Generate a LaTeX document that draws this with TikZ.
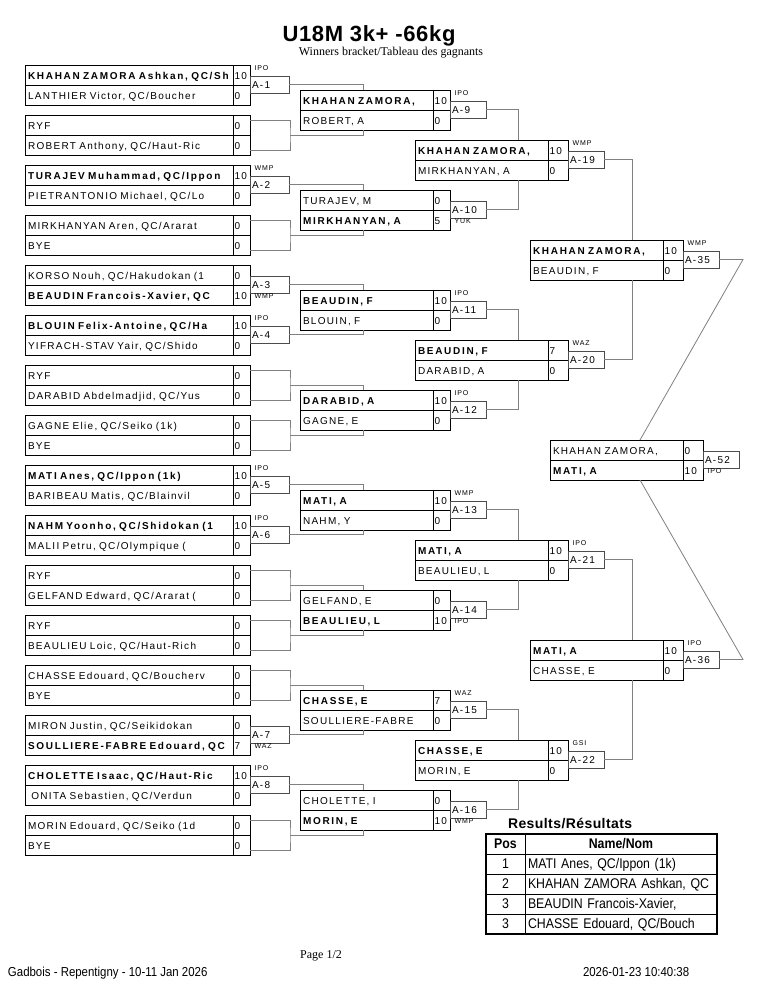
\documentclass[tikz,border=0pt]{standalone}
\usepackage{fontspec}
\setmainfont{Liberation Sans}[LetterSpace=13, BoldFeatures={LetterSpace=17}]
\newfontfamily\titlefont{Liberation Sans}[LetterSpace=3]
\newfontfamily\seriffont{Liberation Serif}
\newfontfamily\narrowfont{Liberation Sans}[FakeStretch=0.88]
\usetikzlibrary{positioning, calc}
\definecolor{linegray}{RGB}{128,128,128}

\begin{document}
\begin{tikzpicture}[x=1pt, y=-1pt, every node/.style={inner sep=0pt, outer sep=0pt, font=\fontsize{10}{12}\selectfont}]
    \tikzstyle{r1name} = [draw, line width=0.8pt, minimum height=20pt, text width=202pt, inner xsep=3pt, align=left, text height=9pt, text depth=1pt, anchor=north west]
    \tikzstyle{rname} = [r1name, text width=127pt]
    \tikzstyle{score} = [draw, line width=0.8pt, minimum height=20pt, text width=14pt, inner xsep=1.5pt, align=left, text height=9pt, text depth=1pt]
    \tikzstyle{wscore} = [score, text width=17pt]
    \tikzstyle{matchbox} = [draw=black!70, line width=0.8pt, minimum height=17pt, text width=32pt, inner xsep=2pt, align=left, text height=9pt, text depth=1pt, anchor=north west]
    \tikzstyle{r1match} = [matchbox, text width=35pt]
    \tikzstyle{winup} = [anchor=south west, inner sep=0.5pt, font=\fontsize{7}{8}\selectfont]
    \tikzstyle{windown} = [winup, anchor=north west]
    \tikzstyle{conn} = [draw=linegray, line width=0.8pt]
    \tikzstyle{poscell} = [draw, line width=0.8pt, minimum width=39pt, minimum height=20pt, font=\narrowfont\fontsize{14}{16}\selectfont, text height=10pt, text depth=2pt]
    \tikzstyle{namecell} = [poscell, minimum width=0pt, text width=186pt, inner xsep=3pt, align=left]

    \fill [white] (0,0) rectangle (765,990);
    \useasboundingbox (0,0) rectangle (765,990);

    % Heading
    \node (title) [anchor=base] at (369,42) {\titlefont\bfseries\fontsize{22}{26}\selectfont U18M 3k+ -66kg};
    \node (subtitle) [anchor=base] at (391,56) {\seriffont\fontsize{12}{14}\selectfont Winners bracket/Tableau des gagnants};

    % Round 1
    \node (a1t) [r1name] at (25,65) {\bfseries KHAHAN ZAMORA Ashkan, QC/Sh};
    \node (a1ts) [score, right=0pt of a1t] {10};
    \node (a1b) [r1name, below=0pt of a1t] {LANTHIER Victor, QC/Boucher};
    \node (a1bs) [score, right=0pt of a1b] {0};
    \node (a1m) [r1match] at ([yshift=-1pt]a1ts.east) {A-1};
    \node (a1w) [winup] at ([xshift=4pt, yshift=5pt]a1m.north west) {IPO};

    \node (a2t) [r1name] at (25,115) {RYF};
    \node (a2ts) [score, right=0pt of a2t] {0};
    \node (a2b) [r1name, below=0pt of a2t] {ROBERT Anthony, QC/Haut-Ric};
    \node (a2bs) [score, right=0pt of a2b] {0};
    \coordinate (a2o) at ([xshift=40pt]a2ts.south east);
    \draw [conn] ([yshift=-5pt]a2ts.north east) -| (a2o) |- ([yshift=-15pt]a2bs.north east);

    \node (a3t) [r1name] at (25,165) {\bfseries TURAJEV Muhammad, QC/Ippon};
    \node (a3ts) [score, right=0pt of a3t] {10};
    \node (a3b) [r1name, below=0pt of a3t] {PIETRANTONIO Michael, QC/Lo};
    \node (a3bs) [score, right=0pt of a3b] {0};
    \node (a3m) [r1match] at ([yshift=-1pt]a3ts.east) {A-2};
    \node (a3w) [winup] at ([xshift=4pt, yshift=5pt]a3m.north west) {WMP};

    \node (a4t) [r1name] at (25,215) {MIRKHANYAN Aren, QC/Ararat};
    \node (a4ts) [score, right=0pt of a4t] {0};
    \node (a4b) [r1name, below=0pt of a4t] {BYE};
    \node (a4bs) [score, right=0pt of a4b] {0};
    \coordinate (a4o) at ([xshift=40pt]a4ts.south east);
    \draw [conn] ([yshift=-5pt]a4ts.north east) -| (a4o) |- ([yshift=-15pt]a4bs.north east);

    \node (a5t) [r1name] at (25,265) {KORSO Nouh, QC/Hakudokan (1};
    \node (a5ts) [score, right=0pt of a5t] {0};
    \node (a5b) [r1name, below=0pt of a5t] {\bfseries BEAUDIN Francois-Xavier, QC};
    \node (a5bs) [score, right=0pt of a5b] {10};
    \node (a5m) [r1match] at ([yshift=-1pt]a5ts.east) {A-3};
    \node (a5w) [windown] at ([xshift=4pt]a5m.south west) {WMP};

    \node (a6t) [r1name] at (25,315) {\bfseries BLOUIN Felix-Antoine, QC/Ha};
    \node (a6ts) [score, right=0pt of a6t] {10};
    \node (a6b) [r1name, below=0pt of a6t] {YIFRACH-STAV Yair, QC/Shido};
    \node (a6bs) [score, right=0pt of a6b] {0};
    \node (a6m) [r1match] at ([yshift=-1pt]a6ts.east) {A-4};
    \node (a6w) [winup] at ([xshift=4pt, yshift=5pt]a6m.north west) {IPO};

    \node (a7t) [r1name] at (25,365) {RYF};
    \node (a7ts) [score, right=0pt of a7t] {0};
    \node (a7b) [r1name, below=0pt of a7t] {DARABID Abdelmadjid, QC/Yus};
    \node (a7bs) [score, right=0pt of a7b] {0};
    \coordinate (a7o) at ([xshift=40pt]a7ts.south east);
    \draw [conn] ([yshift=-5pt]a7ts.north east) -| (a7o) |- ([yshift=-15pt]a7bs.north east);

    \node (a8t) [r1name] at (25,415) {GAGNE Elie, QC/Seiko (1k)};
    \node (a8ts) [score, right=0pt of a8t] {0};
    \node (a8b) [r1name, below=0pt of a8t] {BYE};
    \node (a8bs) [score, right=0pt of a8b] {0};
    \coordinate (a8o) at ([xshift=40pt]a8ts.south east);
    \draw [conn] ([yshift=-5pt]a8ts.north east) -| (a8o) |- ([yshift=-15pt]a8bs.north east);

    \node (a9t) [r1name] at (25,465) {\bfseries MATI Anes, QC/Ippon (1k)};
    \node (a9ts) [score, right=0pt of a9t] {10};
    \node (a9b) [r1name, below=0pt of a9t] {BARIBEAU Matis, QC/Blainvil};
    \node (a9bs) [score, right=0pt of a9b] {0};
    \node (a9m) [r1match] at ([yshift=-1pt]a9ts.east) {A-5};
    \node (a9w) [winup] at ([xshift=4pt, yshift=5pt]a9m.north west) {IPO};

    \node (a10t) [r1name] at (25,515) {\bfseries NAHM Yoonho, QC/Shidokan (1};
    \node (a10ts) [score, right=0pt of a10t] {10};
    \node (a10b) [r1name, below=0pt of a10t] {MALII Petru, QC/Olympique (};
    \node (a10bs) [score, right=0pt of a10b] {0};
    \node (a10m) [r1match] at ([yshift=-1pt]a10ts.east) {A-6};
    \node (a10w) [winup] at ([xshift=4pt, yshift=5pt]a10m.north west) {IPO};

    \node (a11t) [r1name] at (25,565) {RYF};
    \node (a11ts) [score, right=0pt of a11t] {0};
    \node (a11b) [r1name, below=0pt of a11t] {GELFAND Edward, QC/Ararat (};
    \node (a11bs) [score, right=0pt of a11b] {0};
    \coordinate (a11o) at ([xshift=40pt]a11ts.south east);
    \draw [conn] ([yshift=-5pt]a11ts.north east) -| (a11o) |- ([yshift=-15pt]a11bs.north east);

    \node (a12t) [r1name] at (25,615) {RYF};
    \node (a12ts) [score, right=0pt of a12t] {0};
    \node (a12b) [r1name, below=0pt of a12t] {BEAULIEU Loic, QC/Haut-Rich};
    \node (a12bs) [score, right=0pt of a12b] {0};
    \coordinate (a12o) at ([xshift=40pt]a12ts.south east);
    \draw [conn] ([yshift=-5pt]a12ts.north east) -| (a12o) |- ([yshift=-15pt]a12bs.north east);

    \node (a13t) [r1name] at (25,665) {CHASSE Edouard, QC/Boucherv};
    \node (a13ts) [score, right=0pt of a13t] {0};
    \node (a13b) [r1name, below=0pt of a13t] {BYE};
    \node (a13bs) [score, right=0pt of a13b] {0};
    \coordinate (a13o) at ([xshift=40pt]a13ts.south east);
    \draw [conn] ([yshift=-5pt]a13ts.north east) -| (a13o) |- ([yshift=-15pt]a13bs.north east);

    \node (a14t) [r1name] at (25,715) {MIRON Justin, QC/Seikidokan};
    \node (a14ts) [score, right=0pt of a14t] {0};
    \node (a14b) [r1name, below=0pt of a14t] {\bfseries SOULLIERE-FABRE Edouard, QC};
    \node (a14bs) [score, right=0pt of a14b] {7};
    \node (a14m) [r1match] at ([yshift=-1pt]a14ts.east) {A-7};
    \node (a14w) [windown] at ([xshift=4pt]a14m.south west) {WAZ};

    \node (a15t) [r1name] at (25,765) {\bfseries CHOLETTE Isaac, QC/Haut-Ric};
    \node (a15ts) [score, right=0pt of a15t] {10};
    \node (a15b) [r1name, below=0pt of a15t] {\ ONITA Sebastien, QC/Verdun};
    \node (a15bs) [score, right=0pt of a15b] {0};
    \node (a15m) [r1match] at ([yshift=-1pt]a15ts.east) {A-8};
    \node (a15w) [winup] at ([xshift=4pt, yshift=5pt]a15m.north west) {IPO};

    \node (a16t) [r1name] at (25,815) {MORIN Edouard, QC/Seiko (1d};
    \node (a16ts) [score, right=0pt of a16t] {0};
    \node (a16b) [r1name, below=0pt of a16t] {BYE};
    \node (a16bs) [score, right=0pt of a16b] {0};
    \coordinate (a16o) at ([xshift=40pt]a16ts.south east);
    \draw [conn] ([yshift=-5pt]a16ts.north east) -| (a16o) |- ([yshift=-15pt]a16bs.north east);

    % Round 2
    \node (b1t) [rname] at (300,90) {\bfseries KHAHAN ZAMORA,};
    \node (b1ts) [score, right=0pt of b1t] {10};
    \node (b1b) [rname, below=0pt of b1t] {ROBERT, A};
    \node (b1bs) [score, right=0pt of b1b] {0};
    \node (b1m) [matchbox] at ([yshift=-1pt]b1ts.east) {A-9};
    \node (b1w) [winup] at ([xshift=4pt, yshift=5pt]b1m.north west) {IPO};

    \node (b2t) [rname] at (300,190) {TURAJEV, M};
    \node (b2ts) [score, right=0pt of b2t] {0};
    \node (b2b) [rname, below=0pt of b2t] {\bfseries MIRKHANYAN, A};
    \node (b2bs) [score, right=0pt of b2b] {5};
    \node (b2m) [matchbox] at ([yshift=-1pt]b2ts.east) {A-10};
    \node (b2w) [windown] at ([xshift=4pt]b2m.south west) {YUK};

    \node (b3t) [rname] at (300,290) {\bfseries BEAUDIN, F};
    \node (b3ts) [score, right=0pt of b3t] {10};
    \node (b3b) [rname, below=0pt of b3t] {BLOUIN, F};
    \node (b3bs) [score, right=0pt of b3b] {0};
    \node (b3m) [matchbox] at ([yshift=-1pt]b3ts.east) {A-11};
    \node (b3w) [winup] at ([xshift=4pt, yshift=5pt]b3m.north west) {IPO};

    \node (b4t) [rname] at (300,390) {\bfseries DARABID, A};
    \node (b4ts) [score, right=0pt of b4t] {10};
    \node (b4b) [rname, below=0pt of b4t] {GAGNE, E};
    \node (b4bs) [score, right=0pt of b4b] {0};
    \node (b4m) [matchbox] at ([yshift=-1pt]b4ts.east) {A-12};
    \node (b4w) [winup] at ([xshift=4pt, yshift=5pt]b4m.north west) {IPO};

    \node (b5t) [rname] at (300,490) {\bfseries MATI, A};
    \node (b5ts) [score, right=0pt of b5t] {10};
    \node (b5b) [rname, below=0pt of b5t] {NAHM, Y};
    \node (b5bs) [score, right=0pt of b5b] {0};
    \node (b5m) [matchbox] at ([yshift=-1pt]b5ts.east) {A-13};
    \node (b5w) [winup] at ([xshift=4pt, yshift=5pt]b5m.north west) {WMP};

    \node (b6t) [rname] at (300,590) {GELFAND, E};
    \node (b6ts) [score, right=0pt of b6t] {0};
    \node (b6b) [rname, below=0pt of b6t] {\bfseries BEAULIEU, L};
    \node (b6bs) [score, right=0pt of b6b] {10};
    \node (b6m) [matchbox] at ([yshift=-1pt]b6ts.east) {A-14};
    \node (b6w) [windown] at ([xshift=4pt]b6m.south west) {IPO};

    \node (b7t) [rname] at (300,690) {\bfseries CHASSE, E};
    \node (b7ts) [score, right=0pt of b7t] {7};
    \node (b7b) [rname, below=0pt of b7t] {SOULLIERE-FABRE};
    \node (b7bs) [score, right=0pt of b7b] {0};
    \node (b7m) [matchbox] at ([yshift=-1pt]b7ts.east) {A-15};
    \node (b7w) [winup] at ([xshift=4pt, yshift=5pt]b7m.north west) {WAZ};

    \node (b8t) [rname] at (300,790) {CHOLETTE, I};
    \node (b8ts) [score, right=0pt of b8t] {0};
    \node (b8b) [rname, below=0pt of b8t] {\bfseries MORIN, E};
    \node (b8bs) [score, right=0pt of b8b] {10};
    \node (b8m) [matchbox] at ([yshift=-1pt]b8ts.east) {A-16};
    \node (b8w) [windown] at ([xshift=4pt]b8m.south west) {WMP};

    % Round 3
    \node (c1t) [rname] at (415,140) {\bfseries KHAHAN ZAMORA,};
    \node (c1ts) [wscore, right=0pt of c1t] {10};
    \node (c1b) [rname, below=0pt of c1t] {MIRKHANYAN, A};
    \node (c1bs) [wscore, right=0pt of c1b] {0};
    \node (c1m) [matchbox] at ([yshift=-1pt]c1ts.east) {A-19};
    \node (c1w) [winup] at ([xshift=4pt, yshift=5pt]c1m.north west) {WMP};

    \node (c2t) [rname] at (415,340) {\bfseries BEAUDIN, F};
    \node (c2ts) [wscore, right=0pt of c2t] {7};
    \node (c2b) [rname, below=0pt of c2t] {DARABID, A};
    \node (c2bs) [wscore, right=0pt of c2b] {0};
    \node (c2m) [matchbox] at ([yshift=-1pt]c2ts.east) {A-20};
    \node (c2w) [winup] at ([xshift=4pt, yshift=5pt]c2m.north west) {WAZ};

    \node (c3t) [rname] at (415,540) {\bfseries MATI, A};
    \node (c3ts) [wscore, right=0pt of c3t] {10};
    \node (c3b) [rname, below=0pt of c3t] {BEAULIEU, L};
    \node (c3bs) [wscore, right=0pt of c3b] {0};
    \node (c3m) [matchbox] at ([yshift=-1pt]c3ts.east) {A-21};
    \node (c3w) [winup] at ([xshift=4pt, yshift=5pt]c3m.north west) {IPO};

    \node (c4t) [rname] at (415,740) {\bfseries CHASSE, E};
    \node (c4ts) [wscore, right=0pt of c4t] {10};
    \node (c4b) [rname, below=0pt of c4t] {MORIN, E};
    \node (c4bs) [wscore, right=0pt of c4b] {0};
    \node (c4m) [matchbox] at ([yshift=-1pt]c4ts.east) {A-22};
    \node (c4w) [winup] at ([xshift=4pt, yshift=5pt]c4m.north west) {GSI};

    % Round 4
    \node (d1t) [rname] at (530,240) {\bfseries KHAHAN ZAMORA,};
    \node (d1ts) [wscore, right=0pt of d1t] {10};
    \node (d1b) [rname, below=0pt of d1t] {BEAUDIN, F};
    \node (d1bs) [wscore, right=0pt of d1b] {0};
    \node (d1m) [matchbox] at ([yshift=-1pt]d1ts.east) {A-35};
    \node (d1w) [winup] at ([xshift=4pt, yshift=5pt]d1m.north west) {WMP};

    \node (d2t) [rname] at (530,640) {\bfseries MATI, A};
    \node (d2ts) [wscore, right=0pt of d2t] {10};
    \node (d2b) [rname, below=0pt of d2t] {CHASSE, E};
    \node (d2bs) [wscore, right=0pt of d2b] {0};
    \node (d2m) [matchbox] at ([yshift=-1pt]d2ts.east) {A-36};
    \node (d2w) [winup] at ([xshift=4pt, yshift=5pt]d2m.north west) {IPO};

    % Final
    \node (et) [rname] at (550,440) {KHAHAN ZAMORA,};
    \node (ets) [wscore, right=0pt of et] {0};
    \node (eb) [rname, below=0pt of et] {\bfseries MATI, A};
    \node (ebs) [wscore, right=0pt of eb] {10};
    \node (em) [matchbox] at ([yshift=-1pt]ets.east) {A-52};
    \node (ew) [windown] at ([xshift=4pt]em.south west) {IPO};

    % Connectors
    \draw [conn] (a1m.east) -| ([xshift=63pt]b1t.north west);
    \draw [conn] (a2o) -| ([xshift=63pt]b1b.south west);
    \draw [conn] (a3m.east) -| ([xshift=63pt]b2t.north west);
    \draw [conn] (a4o) -| ([xshift=63pt]b2b.south west);
    \draw [conn] (a5m.east) -| ([xshift=63pt]b3t.north west);
    \draw [conn] (a6m.east) -| ([xshift=63pt]b3b.south west);
    \draw [conn] (a7o) -| ([xshift=63pt]b4t.north west);
    \draw [conn] (a8o) -| ([xshift=63pt]b4b.south west);
    \draw [conn] (a9m.east) -| ([xshift=63pt]b5t.north west);
    \draw [conn] (a10m.east) -| ([xshift=63pt]b5b.south west);
    \draw [conn] (a11o) -| ([xshift=63pt]b6t.north west);
    \draw [conn] (a12o) -| ([xshift=63pt]b6b.south west);
    \draw [conn] (a13o) -| ([xshift=63pt]b7t.north west);
    \draw [conn] (a14m.east) -| ([xshift=63pt]b7b.south west);
    \draw [conn] (a15m.east) -| ([xshift=63pt]b8t.north west);
    \draw [conn] (a16o) -| ([xshift=63pt]b8b.south west);

    \draw [conn] (b1m.east) -| ([xshift=103pt]c1t.north west);
    \draw [conn] (b2m.east) -| ([xshift=103pt]c1b.south west);
    \draw [conn] (b3m.east) -| ([xshift=103pt]c2t.north west);
    \draw [conn] (b4m.east) -| ([xshift=103pt]c2b.south west);
    \draw [conn] (b5m.east) -| ([xshift=103pt]c3t.north west);
    \draw [conn] (b6m.east) -| ([xshift=103pt]c3b.south west);
    \draw [conn] (b7m.east) -| ([xshift=103pt]c4t.north west);
    \draw [conn] (b8m.east) -| ([xshift=103pt]c4b.south west);

    \draw [conn] (c1m.east) -| ([xshift=102pt]d1t.north west);
    \draw [conn] (c2m.east) -| ([xshift=102pt]d1b.south west);
    \draw [conn] (c3m.east) -| ([xshift=102pt]d2t.north west);
    \draw [conn] (c4m.east) -| ([xshift=102pt]d2b.south west);

    \draw [conn] (d1m.east) -- ++(24,0) -- ([xshift=90pt]et.north west);
    \draw [conn] (d2m.east) -- ++(24,0) -- ([xshift=90pt]eb.south west);

    % Results table
    \node (restitle) [anchor=base west] at (508,828) {\titlefont\bfseries\fontsize{14}{16}\selectfont Results/Résultats};
    \node (poshead) [poscell, anchor=north west] at (486,834) {\bfseries Pos};
    \node (namehead) [namecell, align=center, right=0pt of poshead] {\bfseries Name/Nom};
    \node (pos1) [poscell, below=0pt of poshead] {1};
    \node (name1) [namecell, right=0pt of pos1] {MATI Anes, QC/Ippon (1k)};
    \node (pos2) [poscell, below=0pt of pos1] {2};
    \node (name2) [namecell, right=0pt of pos2] {KHAHAN ZAMORA Ashkan, QC};
    \node (pos3) [poscell, below=0pt of pos2] {3};
    \node (name3) [namecell, right=0pt of pos3] {BEAUDIN Francois-Xavier,};
    \node (pos4) [poscell, below=0pt of pos3] {3};
    \node (name4) [namecell, right=0pt of pos4] {CHASSE Edouard, QC/Bouch};
    \draw [line width=1.6pt] (poshead.north west) rectangle (name4.south east);

    % Footer
    \node (page) [anchor=base] at (321,958) {\seriffont\fontsize{12}{14}\selectfont Page 1/2};
    \node (venue) [anchor=base west] at (8,976) {\narrowfont\fontsize{13}{15}\selectfont Gadbois - Repentigny - 10-11 Jan 2026};
    \node (stamp) [anchor=base west] at (583,976) {\narrowfont\fontsize{13}{15}\selectfont 2026-01-23 10:40:38};
\end{tikzpicture}
\end{document}
